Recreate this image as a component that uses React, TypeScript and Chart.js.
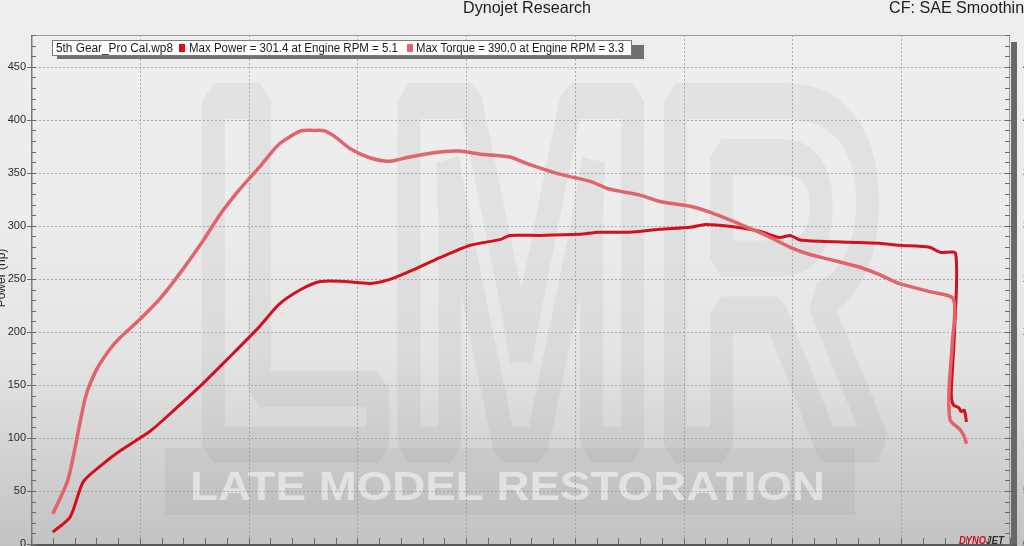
import React, { useEffect, useRef } from "react";
import { Chart, registerables } from "chart.js";

Chart.register(...registerables);

// ---- data (Engine RPM in thousands) ----
const powerRpm = [
  2.1, 2.18, 2.24, 2.32, 2.41, 2.55, 2.66, 2.78, 2.91, 3.05, 3.14, 3.24, 3.33, 3.44, 3.56, 3.65,
  3.74, 3.88, 4.02, 4.16, 4.2, 4.34, 4.52, 4.61, 4.75, 4.89, 5.03, 5.1, 5.21, 5.35, 5.44, 5.49,
  5.53, 5.63, 5.76, 5.9, 5.99, 6.13, 6.18, 6.25, 6.245, 6.23, 6.24, 6.265, 6.275, 6.29, 6.3,
];
const powerHp = [
  11.3, 25.5, 58.6, 73.7, 87.9, 106.8, 126.7, 149.3, 175.8, 205, 226, 240, 247.6, 247.6, 245.7, 249.5,
  257, 270, 281.7, 287.3, 291, 291, 292, 294, 294, 296.8, 298.7, 301.4, 299.6, 295, 289, 291,
  287, 285.4, 284.5, 283.6, 281.7, 279.8, 275, 274, 200, 141, 131, 128.5, 125, 126, 115,
];
const torqueRpm = [
  2.1, 2.17, 2.25, 2.3, 2.36, 2.41, 2.5, 2.59, 2.68, 2.78, 2.87, 2.96, 3.05, 3.14, 3.24, 3.3,
  3.35, 3.4, 3.47, 3.56, 3.65, 3.74, 3.88, 3.97, 4.06, 4.2, 4.29, 4.43, 4.57, 4.66, 4.8, 4.89,
  5.03, 5.12, 5.26, 5.37, 5.49, 5.58, 5.67, 5.81, 5.9, 5.99, 6.13, 6.24, 6.235, 6.22, 6.225, 6.27,
  6.29, 6.3,
];
const torqueLbFt = [
  28.4, 60.5, 138, 164, 183, 194.7, 211.7, 230.6, 254, 282.6, 311, 334.6, 355.4, 377, 389.5, 390.0,
  389.6, 383.7, 372.4, 364, 361, 365, 369.6, 370.5, 367.7, 365, 358, 348.8, 342, 334.6, 329, 323,
  318.5, 312.9, 301.5, 292, 279.8, 273, 268.4, 261, 254, 245.7, 238, 231, 190, 146, 117, 108,
  101, 94.5,
];

const runName = "5th Gear_Pro Cal.wp8";
const chartTitle = "Dynojet Research";
const correctionLabel = "CF: SAE Smoothing";
const yAxisTitle = "Power (hp)";
const xAxisTitle = "Engine RPM";
const watermarkLogo = "LMR";
const watermarkText = "LATE MODEL RESTORATION";
const brandA = "DYNO";
const brandB = "JET";

const xMin = 2.0;
const xMax = 6.5;
const yMin = 0;
const yMax = 480;
const yLabelStep = 50;
const yMinorStep = 10;
const xGridStep = 0.5;
const xMinorStep = 0.1;

const POWER_COLOR = "#d5101b";
const TORQUE_COLOR = "#e1636b";
const FONT = '"Liberation Sans", Arial, sans-serif';

function peak(xs: number[], ys: number[]) {
  let k = 0;
  ys.forEach((v, i) => {
    if (v > ys[k]) k = i;
  });
  return { x: xs[k], y: ys[k] };
}

const CANVAS_W = 1100;
const CANVAS_H = 600;

function fitText(ctx: CanvasRenderingContext2D, text: string, x: number, y: number, width: number) {
  const w = ctx.measureText(text).width;
  ctx.save();
  ctx.translate(x, y);
  ctx.scale(width / w, 1);
  ctx.fillText(text, 0, 0);
  ctx.restore();
}

const decorPlugin = {
  id: "dynoDecor",
  beforeDraw(chart: any) {
    const ctx: CanvasRenderingContext2D = chart.ctx;
    ctx.save();
    // watermark band
    ctx.fillStyle = "rgba(0,0,0,0.045)";
    ctx.fillRect(165, 448, 690, 67);
    // big outlined logo
    ctx.save();
    ctx.font = `bold 500px ${FONT}`;
    ctx.translate(192, 445);
    ctx.scale(0.64, 1);
    ctx.lineWidth = 36;
    ctx.lineJoin = "bevel";
    ctx.strokeStyle = "rgba(0,0,0,0.045)";
    ctx.strokeText(watermarkLogo, 0, 0);
    ctx.restore();
    // watermark text
    ctx.font = `bold 40px ${FONT}`;
    ctx.textBaseline = "middle";
    ctx.fillStyle = "rgba(255,255,255,0.5)";
    fitText(ctx, watermarkText, 190, 489, 635);
    ctx.restore();
  },
  beforeDatasetsDraw(chart: any) {
    const ctx: CanvasRenderingContext2D = chart.ctx;
    const { left, right, top, bottom } = chart.chartArea;
    const xs = chart.scales.x;
    const ys = chart.scales.y;
    ctx.save();
    ctx.strokeStyle = "rgba(150,150,150,0.75)";
    ctx.lineWidth = 1;
    ctx.setLineDash([2, 2]);
    for (let v = yLabelStep; v < yMax; v += yLabelStep) {
      const py = Math.round(ys.getPixelForValue(v)) + 0.5;
      ctx.beginPath();
      ctx.moveTo(left, py);
      ctx.lineTo(right, py);
      ctx.stroke();
    }
    for (let v = xMin + xGridStep; v < xMax - 1e-6; v += xGridStep) {
      const px = Math.round(xs.getPixelForValue(v)) + 0.5;
      ctx.beginPath();
      ctx.moveTo(px, top);
      ctx.lineTo(px, bottom);
      ctx.stroke();
    }
    ctx.restore();
  },
  afterDraw(chart: any) {
    const ctx: CanvasRenderingContext2D = chart.ctx;
    const { left, right, top, bottom } = chart.chartArea;
    const xs = chart.scales.x;
    const ys = chart.scales.y;
    ctx.save();
    ctx.setLineDash([]);
    // frame
    ctx.strokeStyle = "#9a9a9a";
    ctx.lineWidth = 1;
    ctx.beginPath();
    ctx.moveTo(left, top + 0.5);
    ctx.lineTo(right, top + 0.5);
    ctx.moveTo(right - 0.5, top);
    ctx.lineTo(right - 0.5, bottom);
    ctx.stroke();
    ctx.strokeStyle = "#7d7d7d";
    ctx.lineWidth = 1.5;
    ctx.beginPath();
    ctx.moveTo(left + 0.75, top);
    ctx.lineTo(left + 0.75, bottom);
    ctx.stroke();
    ctx.fillStyle = "#686868";
    ctx.fillRect(right + 1, top + 7, 6, bottom - top);
    ctx.fillStyle = "#585858";
    ctx.fillRect(left, bottom, right - left + 7, 3);

    // ticks
    ctx.strokeStyle = "#6a6a6a";
    ctx.lineWidth = 1;
    ctx.beginPath();
    for (let v = yMin; v <= yMax; v += yMinorStep) {
      const py = Math.round(ys.getPixelForValue(v)) + 0.5;
      const major = v % yLabelStep === 0;
      ctx.moveTo(major ? left - 4 : left, py);
      ctx.lineTo(left + 5, py);
      ctx.moveTo(right - 5, py);
      ctx.lineTo(major ? right + 1 : right, py);
    }
    for (let i = 0; xMin + i * xMinorStep <= xMax + 1e-6; i++) {
      const px = Math.round(xs.getPixelForValue(xMin + i * xMinorStep)) + 0.5;
      ctx.moveTo(px, bottom - 6);
      ctx.lineTo(px, bottom);
    }
    ctx.stroke();

    // header
    ctx.fillStyle = "#1c1c1c";
    ctx.textBaseline = "middle";
    ctx.font = `17px ${FONT}`;
    const tw = ctx.measureText(chartTitle).width;
    const sc = 128 / tw;
    fitText(ctx, chartTitle, 463, 8, 128);
    fitText(ctx, correctionLabel, 889, 8, ctx.measureText(correctionLabel).width * sc);

    // y axis title (partly off-canvas like the reference)
    ctx.save();
    ctx.font = `12px ${FONT}`;
    ctx.fillStyle = "#2a2a2a";
    ctx.textAlign = "center";
    ctx.textBaseline = "alphabetic";
    ctx.translate(5, 278);
    ctx.rotate(-Math.PI / 2);
    ctx.fillText(yAxisTitle, 0, 0);
    ctx.restore();

    // legend box
    const p = peak(powerRpm, powerHp);
    const t = peak(torqueRpm, torqueLbFt);
    const seg2 = `Max Power = ${p.y.toFixed(1)} at ${xAxisTitle} = ${p.x.toFixed(1)}`;
    const seg3 = `Max Torque = ${t.y.toFixed(1)} at ${xAxisTitle} = ${t.x.toFixed(1)}`;
    ctx.fillStyle = "#707070";
    ctx.fillRect(57, 45, 587, 14);
    ctx.fillStyle = "#ffffff";
    ctx.fillRect(52, 40, 579, 15);
    ctx.strokeStyle = "#7a7a7a";
    ctx.lineWidth = 1;
    ctx.strokeRect(52.5, 40.5, 579, 15);
    ctx.font = `12px ${FONT}`;
    ctx.fillStyle = "#1a1a1a";
    ctx.textBaseline = "middle";
    fitText(ctx, runName, 56, 48.5, 117);
    fitText(ctx, seg2, 189, 48.5, 209);
    fitText(ctx, seg3, 416, 48.5, 208);
    ctx.fillStyle = POWER_COLOR;
    ctx.fillRect(179, 44, 6, 8);
    ctx.fillStyle = TORQUE_COLOR;
    ctx.fillRect(407, 44, 6, 8);

    // brand mark
    ctx.font = `italic bold 11px ${FONT}`;
    ctx.textBaseline = "alphabetic";
    ctx.fillStyle = "#c8101a";
    fitText(ctx, brandA, 959, 544, 27);
    ctx.fillStyle = "#333";
    fitText(ctx, brandB, 986, 544, 18);
    ctx.restore();
  },
};

export default function App() {
  const ref = useRef<HTMLCanvasElement | null>(null);

  useEffect(() => {
    if (!ref.current) return;
    const chart = new Chart(ref.current, {
      type: "line",
      data: {
        datasets: [
          {
            label: "Torque",
            data: torqueRpm.map((x, i) => ({ x, y: torqueLbFt[i] })),
            borderColor: TORQUE_COLOR,
            borderWidth: 3.5,
            pointRadius: 0,
            tension: 0.25,
            fill: false,
          },
          {
            label: "Power",
            data: powerRpm.map((x, i) => ({ x, y: powerHp[i] })),
            borderColor: POWER_COLOR,
            borderWidth: 3,
            pointRadius: 0,
            tension: 0.25,
            fill: false,
          },
        ],
      },
      options: {
        responsive: true,
        maintainAspectRatio: false,
        animation: false,
        layout: { padding: { top: 35, left: 0, right: 0, bottom: 0 } },
        plugins: {
          legend: { display: false },
          tooltip: { enabled: false },
          title: { display: false },
        },
        scales: {
          x: {
            type: "linear",
            min: xMin,
            max: xMax,
            grid: { display: false, drawTicks: false },
            border: { display: false },
            title: { display: true, text: xAxisTitle },
            ticks: { stepSize: xGridStep, padding: 6, font: { size: 11, family: FONT } },
            afterFit: (s: any) => {
              s.height = CANVAS_H - 544;
            },
          },
          y: {
            type: "linear",
            position: "left",
            min: yMin,
            max: yMax,
            grid: { display: false, drawTicks: false },
            border: { display: false },
            ticks: {
              stepSize: yLabelStep,
              autoSkip: false,
              padding: 5,
              color: "#2a2a2a",
              font: { size: 11, family: FONT },
              callback: (v: any) => (Number(v) % yLabelStep === 0 ? String(v) : ""),
            },
            afterFit: (s: any) => {
              s.width = 31;
            },
          },
          y2: {
            type: "linear",
            position: "right",
            min: yMin,
            max: yMax,
            grid: { display: false, drawTicks: false },
            border: { display: false },
            ticks: {
              stepSize: yLabelStep,
              autoSkip: false,
              padding: 13,
              color: "#2a2a2a",
              font: { size: 11, family: FONT },
              callback: (v: any) => (Number(v) % yLabelStep === 0 ? String(v) : ""),
            },
            afterFit: (s: any) => {
              s.width = CANVAS_W - 1010;
            },
          },
        },
      },
      plugins: [decorPlugin],
    } as any);
    return () => chart.destroy();
  }, []);

  return (
    <div
      style={{
        position: "fixed",
        left: 0,
        top: 0,
        width: 1024,
        height: 546,
        overflow: "hidden",
        background:
          "linear-gradient(to bottom, #eeeeee 0%, #ececec 40%, #e4e4e4 65%, #d4d4d4 82%, #c2c2c2 100%)",
      }}
    >
      <div style={{ position: "absolute", left: 0, top: 0, width: CANVAS_W, height: CANVAS_H }}>
        <canvas ref={ref} />
      </div>
    </div>
  );
}
